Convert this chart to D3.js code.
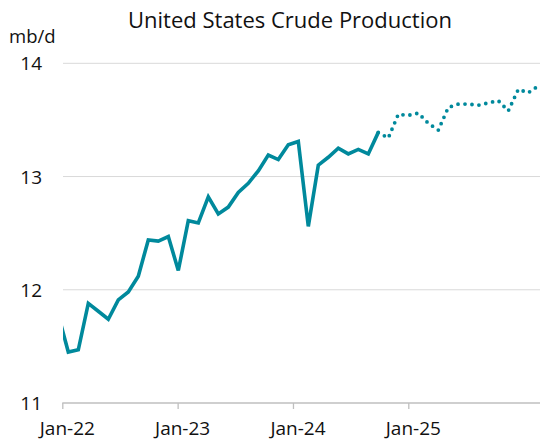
<!DOCTYPE html>
<html>
<head>
<meta charset="utf-8">
<script src="https://cdn.jsdelivr.net/npm/d3@7"></script>
<style>
  html, body { margin: 0; padding: 0; background: #fff; }
  #chart { width: 540px; height: 446px; }
  text { font-family: "Open Sans", "Noto Sans", sans-serif; fill: #111; }
</style>
</head>
<body>
<div id="chart"></div>
<script>
// monthly production, mb/d (first point Dec-21 sits just off the left edge)
const actual = [11.78, 11.45, 11.47, 11.88, 11.81, 11.74, 11.91, 11.98, 12.12, 12.44, 12.43, 12.47, 12.17,
                12.61, 12.59, 12.82, 12.67, 12.73, 12.86, 12.94, 13.05, 13.19, 13.15, 13.28, 13.31,
                12.56, 13.10, 13.17, 13.25, 13.20, 13.24, 13.20, 13.39];
// forecast starts on the last actual month (Aug-24) so the two lines join
const forecast = [13.39, 13.34, 13.55, 13.54, 13.56,
                  13.47, 13.41, 13.61, 13.64, 13.64, 13.63, 13.65, 13.67, 13.58, 13.77, 13.74, 13.80];
const tickLabels = ["Jan-22", "Jan-23", "Jan-24", "Jan-25"];
const yTicks = [11, 12, 13, 14];

const width = 540, height = 446;
const months = d3.utcMonth.range(new Date(Date.UTC(2021, 11, 1)), new Date(Date.UTC(2026, 0, 1)));

const svg = d3.select("#chart").append("svg")
    .attr("width", width)
    .attr("height", height);

const x = d3.scaleLinear().domain([0, months.length - 1]).range([58.3, 538.3]);
const y = d3.scaleLinear().domain([11, 14]).range([403, 63.3]);
// category labels on the axis are spaced on their own
const xAxisScale = d3.scaleLinear().domain([0, 3]).range([62.3, 408.3]);

svg.append("defs").append("clipPath").attr("id", "plot")
  .append("rect").attr("x", 63).attr("y", 40).attr("width", width - 63).attr("height", 380);

// gridlines
svg.append("g").selectAll("line")
  .data(yTicks.filter(d => d > 11))
  .join("line")
    .attr("x1", 63).attr("x2", width)
    .attr("y1", d => y(d)).attr("y2", d => y(d))
    .attr("stroke", "#d9d9d9").attr("stroke-width", 1);

// y labels
svg.append("g").selectAll("text")
  .data(yTicks)
  .join("text")
    .attr("x", 42).attr("y", d => y(d) + 7)
    .attr("text-anchor", "end")
    .style("font-size", "19px")
    .text(d => d);

// x axis
const xAxis = svg.append("g")
    .attr("transform", `translate(0,${y(11)})`)
    .call(d3.axisBottom(xAxisScale).tickValues([0, 1, 2, 3]).tickFormat(i => tickLabels[i]).tickSize(6).tickSizeOuter(0));
xAxis.select(".domain").attr("d", `M${xAxisScale(0)},0H${width}`).attr("stroke", "#bfbfbf").attr("stroke-width", 1.3);
xAxis.selectAll(".tick line").attr("stroke", "#bfbfbf").attr("stroke-width", 1.3);
xAxis.selectAll(".tick text")
    .attr("dx", 4.5).attr("y", 19)
    .style("font-size", "19px")
    .style("font-family", "'Open Sans', 'Noto Sans', sans-serif")
    .attr("fill", "#111");

const line = d3.line()
    .x(d => x(d.i))
    .y(d => y(d.v));

const actualPts = actual.map((v, i) => ({ i, v }));
const offset = actual.length - 1;
const forecastPts = forecast.map((v, i) => ({ i: i + offset, v }));

const g = svg.append("g").attr("clip-path", "url(#plot)");
g.append("path")
    .datum(actualPts)
    .attr("fill", "none")
    .attr("stroke", "#00899c")
    .attr("stroke-width", 3.6)
    .attr("stroke-linejoin", "miter")
    .attr("d", line);

g.append("path")
    .datum(forecastPts)
    .attr("fill", "none")
    .attr("stroke", "#00899c")
    .attr("stroke-width", 3.8)
    .attr("stroke-linecap", "round")
    .attr("stroke-dasharray", "0,7")
    .attr("d", line);

// title and unit
svg.append("text")
    .attr("x", 290).attr("y", 28)
    .attr("text-anchor", "middle")
    .style("font-size", "22px")
    .text("United States Crude Production");

svg.append("text")
    .attr("x", 9).attr("y", 43)
    .style("font-size", "18.5px")
    .text("mb/d");
</script>
</body>
</html>
